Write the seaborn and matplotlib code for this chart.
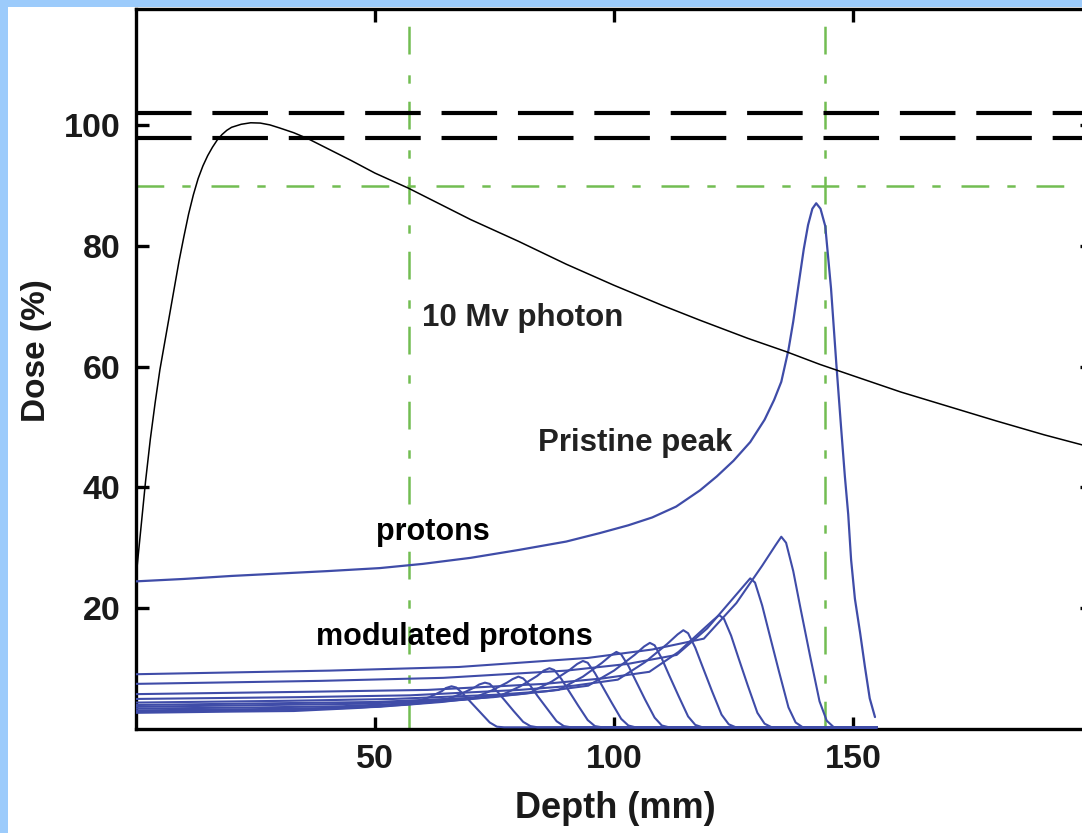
import matplotlib
matplotlib.use("Agg")
import matplotlib.pyplot as plt
import seaborn as sns
import pandas as pd
from matplotlib.patches import Rectangle

# ---------------- data ----------------
photon_depth = [0, 1, 2, 3, 4, 5, 6, 7, 8, 9, 10, 11, 12, 13, 14, 15, 16, 17, 18, 19, 20,
                22, 24, 26, 28, 30, 33, 36, 40, 45, 50, 57, 63, 70, 80, 90, 100, 110, 118,
                128, 136, 143, 150, 160, 170, 180, 190, 200]
photon_dose = [25, 33, 41, 48, 54, 59.5, 64, 68.5, 73, 77.5, 81.5, 85.3, 88.5, 91.2, 93.3,
               95.0, 96.4, 97.6, 98.5, 99.2, 99.7, 100.2, 100.45, 100.4, 100.1, 99.6, 98.8,
               97.8, 96.2, 94.2, 92.1, 89.6, 87.2, 84.4, 80.8, 77.0, 73.5, 70.2, 67.7, 64.7,
               62.5, 60.4, 58.5, 55.8, 53.4, 51.0, 48.7, 46.6]

pristine_depth = [0, 10, 20, 30, 40, 51, 60, 70, 80, 90, 97, 103, 108, 113, 118, 121.5, 125,
                  128.5, 131.5, 133.5, 135, 136.5, 137.5, 138.5, 139.7, 140.6, 141.5, 142.3,
                  143.2, 144.2, 145.4, 146.5, 147.5, 148.3, 149, 149.6, 150.4, 151.5, 152.5,
                  153.5, 154.6]
pristine_dose = [24.4, 24.8, 25.3, 25.7, 26.1, 26.6, 27.3, 28.3, 29.6, 31.0, 32.4, 33.7, 35.0,
                 36.8, 39.5, 41.8, 44.4, 47.5, 51.2, 54.5, 57.5, 62.8, 67.5, 73.0, 79.5, 83.5,
                 86.2, 87.1, 86.2, 83.3, 73.0, 60.6, 50.0, 41.8, 35.5, 28.0, 21.5, 15.8, 10.2,
                 5.0, 1.9]

mod_depths = [
    [0, 40.5, 67.5, 94.5, 108, 118.8, 125.6, 131, 133.8, 135, 136, 137.5, 139, 141, 143, 144.5, 146, 155],
    [0, 38.6, 64.3, 90, 102.8, 113.1, 119.5, 124.6, 127.3, 128.5, 129.5, 131, 132.5, 134.5, 136.5, 138, 139.5, 155],
    [0, 36.6, 61, 85.4, 97.6, 107.4, 113.5, 118.3, 120.8, 122, 123, 124.5, 126, 128, 130, 131.5, 133, 155],
    [0, 34.4, 57.3, 80.2, 91.6, 100.8, 106.5, 111.1, 113.3, 114.5, 115.5, 117, 118.5, 120.5, 122.5, 124, 125.5, 155],
    [0, 32.3, 53.8, 75.3, 86, 94.6, 100, 104.3, 106.3, 107.5, 108.5, 110, 111.5, 113.5, 115.5, 117, 118.5, 155],
    [0, 30.2, 50.3, 70.4, 80.4, 88.4, 93.5, 97.5, 99.3, 100.5, 101.5, 103, 104.5, 106.5, 108.5, 110, 111.5, 155],
    [0, 28.1, 46.8, 65.5, 74.8, 82.3, 87, 90.7, 92.3, 93.5, 94.5, 96, 97.5, 99.5, 101.5, 103, 104.5, 155],
    [0, 26, 43.3, 60.6, 69.2, 76.1, 80.4, 83.9, 85.3, 86.5, 87.5, 89, 90.5, 92.5, 94.5, 96, 97.5, 155],
    [0, 24, 40, 56, 64, 70.4, 74.4, 77.6, 78.8, 80, 81, 82.5, 84, 86, 88, 89.5, 91, 155],
    [0, 21.9, 36.5, 51.1, 58.4, 64.2, 67.9, 70.8, 71.8, 73, 74, 75.5, 77, 79, 81, 82.5, 84, 155],
    [0, 19.8, 33, 46.2, 52.8, 58.1, 61.4, 64, 64.8, 66, 67, 68.5, 70, 72, 74, 75.5, 77, 155],
]
mod_doses = [
    [9.0, 9.6, 10.2, 11.7, 13.1, 14.9, 20.8, 27.0, 30.4, 31.8, 30.8, 26.1, 20.0, 12.1, 4.5, 1.3, 0.2, 0.2],
    [7.4, 7.9, 8.4, 9.6, 10.7, 12.2, 16.6, 21.3, 23.8, 24.9, 24.2, 20.4, 15.7, 9.5, 3.5, 1.0, 0.2, 0.2],
    [5.7, 6.1, 6.4, 7.4, 8.3, 9.4, 12.7, 16.2, 18.0, 18.8, 18.2, 15.4, 11.8, 7.1, 2.6, 0.8, 0.2, 0.2],
    [4.9, 5.2, 5.5, 6.4, 7.1, 8.1, 11.0, 14.0, 15.6, 16.3, 15.8, 13.4, 10.3, 6.2, 2.3, 0.7, 0.2, 0.2],
    [4.3, 4.6, 4.9, 5.6, 6.2, 7.1, 9.6, 12.2, 13.6, 14.2, 13.8, 11.6, 8.9, 5.4, 2.0, 0.6, 0.2, 0.2],
    [3.9, 4.2, 4.4, 5.1, 5.7, 6.4, 8.6, 10.9, 12.1, 12.7, 12.3, 10.4, 8.0, 4.8, 1.8, 0.5, 0.2, 0.2],
    [3.6, 3.9, 4.1, 4.7, 5.2, 5.9, 7.8, 9.7, 10.7, 11.2, 10.9, 9.2, 7.1, 4.3, 1.6, 0.5, 0.2, 0.2],
    [3.3, 3.5, 3.7, 4.3, 4.8, 5.4, 7.0, 8.7, 9.6, 10.0, 9.7, 8.2, 6.3, 3.8, 1.4, 0.4, 0.2, 0.2],
    [3.0, 3.2, 3.4, 3.9, 4.4, 5.0, 6.3, 7.6, 8.2, 8.6, 8.3, 7.1, 5.4, 3.3, 1.2, 0.4, 0.2, 0.2],
    [2.8, 3.0, 3.2, 3.6, 4.1, 4.6, 5.7, 6.8, 7.3, 7.6, 7.4, 6.2, 4.8, 2.9, 1.1, 0.4, 0.2, 0.2],
    [2.6, 2.8, 2.9, 3.4, 3.8, 4.3, 5.2, 6.2, 6.7, 7.0, 6.8, 5.7, 4.4, 2.7, 1.0, 0.3, 0.2, 0.2],
]

dose_band = [98, 102]
target_dose = 90
target_depths = [57.2, 144.1]
x_ticks = [50, 100, 150]
y_ticks = [20, 40, 60, 80, 100]

labels = {
    "photon": ("10 Mv photon", 59.8, 68.1),
    "pristine": ("Pristine peak", 84.0, 47.3),
    "protons": ("protons", 50.2, 32.6),
    "modulated": ("modulated protons", 37.7, 15.2),
}

# ---------------- style ----------------
sns.set_theme(style="ticks")
plt.rcParams['font.family'] = ['Liberation Sans', 'DejaVu Sans']
plt.rcParams['lines.scale_dashes'] = False

W, H = 1082, 833
fig = plt.figure(figsize=(W / 100, H / 100), dpi=100, facecolor='#9ccbfb')
fig.add_artist(Rectangle((8 / W, 0), 1, 1 - 7 / H, transform=fig.transFigure,
                         facecolor='white', edgecolor='none', zorder=-1))
ax = fig.add_axes([136 / W, 104.5 / H, 956 / W, 720 / H])
ax.set_facecolor('white')

blue = '#3f4ca8'
green = '#72bd52'

# reference lines
for d in dose_band:
    ax.axhline(d, color='black', lw=3.0, dashes=(40, 15), zorder=2)
ax.axhline(target_dose, color=green, lw=1.8, dashes=(20, 13, 6, 15), zorder=1.5)
for xd in target_depths:
    ax.axvline(xd, color=green, lw=1.8, dashes=(20, 13, 6, 15), zorder=1.5)

# modulated protons
rows = []
for i, (ds, vs) in enumerate(zip(mod_depths, mod_doses)):
    for d, v in zip(ds, vs):
        rows.append({"curve": i, "depth": d, "dose": v})
df_mod = pd.DataFrame(rows)
sns.lineplot(data=df_mod, x="depth", y="dose", units="curve", estimator=None,
             color=blue, lw=1.5, ax=ax, zorder=3, sort=False)

# pristine peak
sns.lineplot(x=pristine_depth, y=pristine_dose, color=blue, lw=1.6, ax=ax, zorder=3, sort=False)

# photon
sns.lineplot(x=photon_depth, y=photon_dose, color='black', lw=1.1, ax=ax, zorder=3, sort=False)

ax.set_xlim(0, 200)
ax.set_ylim(0, 119.4)
ax.set_xticks(x_ticks)
ax.set_yticks(y_ticks)

for sp in ax.spines.values():
    sp.set_visible(True)
    sp.set_linewidth(2.4)
    sp.set_color('black')

ax.tick_params(direction='in', length=9, width=2.4, top=True, right=True,
               labelsize=24.5, pad=11, colors='black', labelcolor='#1a1a1a')
for lab in ax.get_xticklabels() + ax.get_yticklabels():
    lab.set_fontweight('bold')

ax.set_xlabel("Depth (mm)", fontsize=26, fontweight='bold', color='#1a1a1a')
ax.set_ylabel("Dose (%)", fontsize=24, fontweight='bold', color='#1a1a1a')
ax.xaxis.set_label_coords((615 - 136) / 956, (728.5 - 791) / 720)
ax.yaxis.set_label_coords((52 - 136) / 956, (728.5 - 351) / 720)

for key, (txt, x, y) in labels.items():
    col = '#222222' if key in ("photon", "pristine") else 'black'
    ax.text(x, y, txt, fontsize=22.5 if key in ("photon", "pristine") else 22,
            fontweight='bold', color=col, ha='left', va='center', zorder=5)

fig.savefig("out.png", dpi=100, facecolor=fig.get_facecolor())
